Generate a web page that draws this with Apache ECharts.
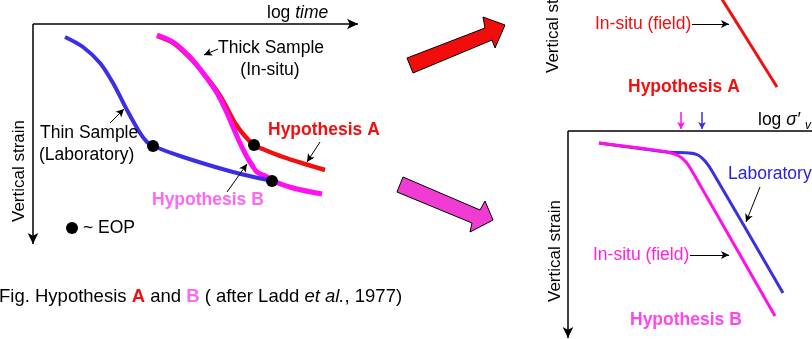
<!DOCTYPE html>
<html>
<head>
<meta charset="utf-8">
<script src="https://cdn.jsdelivr.net/npm/echarts@6/dist/echarts.min.js"></script>
<style>
  html, body { margin: 0; padding: 0; background: #fff; }
  #main { width: 812px; height: 339px; }
</style>
</head>
<body>
<div id="main"></div>
<script>
'use strict';

// schematic curves (x = log time / log stress, y = strain downward)
var thinSample = [[65,37],[83,47],[100,63],[113,83],[127,110],[140,133],[147,142],[153,146],[183,157],[233,172],[272,181]];
var hypothesisB = [[157,35],[173,42],[190,57],[203,73],[217,93],[227,113],[233,127],[240,143],[247,157],[252,165],[257,172],[267,177],[273,181],[293,188],[322,194]];
var hypothesisA = [[157,36],[173,43],[190,58],[204,74],[219,94],[228,110],[235,123],[244,135],[254,145],[265,150],[283,157],[305,164],[325,170]];
var eopPoints = [[153,146],[254,145],[272,181]];
var eopLegend = [[72,228]];

// compression curves, right hand panels
var fieldA = [[720,-4],[777,87]];
var labB = [[599,143],[667,152],[689,153],[698,155],[705,161],[712,171],[783,293]];
var fieldB = [[599,143],[640,148],[667,152],[679,156],[686,162],[692,171],[775,316]];

// big block arrows
var redArrow = [[407,58],[413,73],[492,40],[495,48],[505,25],[483,17],[485,28]];
var pinkArrow = [[403,177],[397,192],[472,223],[470,232],[493,220],[485,201],[480,210]];

// axes and pointer lines [from, to]
var axesArrows = [
  [[33,24],[33,244]], [[33,24],[358,24]],
  [[568,-5],[568,108]],
  [[568,131],[568,338]]
];
var axesPlain = [[[568,131],[812,131]]];
var pointers = [
  [[218,49],[204,55]], [[110,123],[124,109]], [[320,142],[307,162]],
  [[227,192],[247,164]], [[692,24],[729,24]], [[760,187],[746,222]], [[690,255],[729,255]]
];
var pcMarks = [[[681,112],[681,129]], [[702,112],[702,129]]];

var font = 'Liberation Sans, Arial, sans-serif';
var FS = 17.5;
var CAP = 18.5;

var myChart = echarts.init(document.getElementById('main'), null, { renderer: 'canvas' });

function pairs(list) {
  return list.map(function (p) { return [{ coord: p[0] }, { coord: p[1] }]; });
}

function blockArrow(pts, color) {
  return {
    type: 'custom',
    coordinateSystem: 'cartesian2d',
    clip: false,
    data: [[0, 0]],
    renderItem: function (params, api) {
      return {
        type: 'polygon',
        shape: { points: pts.map(function (p) { return api.coord(p); }) },
        style: { fill: color, stroke: '#000', lineWidth: 1 }
      };
    }
  };
}

function curve(data, color, width, smooth) {
  return {
    type: 'line', data: data, smooth: smooth, showSymbol: false, symbol: 'none',
    lineStyle: { color: color, width: width }, clip: false
  };
}

function text(x, y, str, extra) {
  var st = { text: str, x: x, y: y, font: FS + 'px ' + font, fill: '#000', textVerticalAlign: 'middle' };
  for (var k in extra) st[k] = extra[k];
  return { type: 'text', z: 100, style: st };
}

function vtext(x, y) {
  return {
    type: 'text', z: 100, x: x, y: y, rotation: Math.PI / 2,
    style: { text: 'Vertical strain', font: '17px ' + font, fill: '#000', textAlign: 'center', textVerticalAlign: 'middle' }
  };
}

var option = {
  animation: false,
  backgroundColor: '#fff',
  grid: { left: 0, right: 0, top: 0, bottom: 0 },
  xAxis: { type: 'value', min: 0, max: 812, show: false },
  yAxis: { type: 'value', min: 0, max: 339, inverse: true, show: false },
  series: [
    blockArrow(redArrow, '#F20D0D'),
    blockArrow(pinkArrow, '#F03CD2'),
    curve(hypothesisA, '#F01010', 4.5, 0.3),
    curve(hypothesisB, '#FF10F0', 5, 0.3),
    curve(thinSample, '#3C2EE6', 4, 0.3),
    curve(fieldA, '#F01010', 3, false),
    curve(labB, '#3A30E0', 3, 0.25),
    curve(fieldB, '#FF10E8', 3, 0.25),
    {
      type: 'scatter', data: eopPoints.concat(eopLegend), symbolSize: 12,
      itemStyle: { color: '#000', opacity: 1 }, z: 10
    },
    {
      type: 'line', data: [], markLine: {
        silent: true, symbol: ['none', 'arrow'], symbolSize: [8, 11],
        label: { show: false }, lineStyle: { color: '#000', width: 1.5, type: 'solid' },
        data: pairs(axesArrows)
      }
    },
    {
      type: 'line', data: [], markLine: {
        silent: true, symbol: ['none', 'none'],
        label: { show: false }, lineStyle: { color: '#000', width: 1.5, type: 'solid' },
        data: pairs(axesPlain)
      }
    },
    {
      type: 'line', data: [], markLine: {
        silent: true, symbol: ['none', 'arrow'], symbolSize: [6, 8],
        label: { show: false }, lineStyle: { color: '#000', width: 1, type: 'solid' },
        data: pairs(pointers)
      }
    },
    {
      type: 'line', data: [], markLine: {
        silent: true, symbol: ['none', 'arrow'], symbolSize: [6, 7],
        label: { show: false }, lineStyle: { width: 1.5, type: 'solid' },
        data: [
          [{ coord: pcMarks[0][0], lineStyle: { color: '#FF10E8' }, itemStyle: { color: '#FF10E8' } }, { coord: pcMarks[0][1] }],
          [{ coord: pcMarks[1][0], lineStyle: { color: '#3A30E0' }, itemStyle: { color: '#3A30E0' } }, { coord: pcMarks[1][1] }]
        ]
      }
    }
  ],
  graphic: [
    text(267, 13, '{n|log }{i|time}', { rich: { n: { font: FS + 'px ' + font }, i: { font: 'italic ' + FS + 'px ' + font } } }),
    text(218, 48, 'Thick Sample'),
    text(270, 70, '(In-situ)', { textAlign: 'center' }),
    text(40, 133, 'Thin Sample'),
    text(39, 155, '(Laboratory)'),
    text(268, 130, 'Hypothesis A', { font: 'bold ' + FS + 'px ' + font, fill: '#F01010' }),
    text(152, 200, 'Hypothesis B', { font: 'bold ' + FS + 'px ' + font, fill: '#FF66F5' }),
    text(83, 228, '~ EOP'),
    vtext(19, 171),
    text(-1, 297, '{n|Fig. Hypothesis }{a|A}{n| and }{b|B}{n| ( after Ladd }{i|et al.}{n|, 1977)}', {
      rich: {
        n: { font: CAP + 'px ' + font },
        a: { font: 'bold ' + CAP + 'px ' + font, fill: '#F01010' },
        b: { font: 'bold ' + CAP + 'px ' + font, fill: '#FF66F5' },
        i: { font: 'italic ' + CAP + 'px ' + font }
      }
    }),
    vtext(553, 22),
    text(595, 24, 'In-situ (field)', { fill: '#F01010' }),
    text(628, 87, 'Hypothesis A', { font: 'bold ' + FS + 'px ' + font, fill: '#F01010' }),
    text(758, 120, '{n|log }{s|σ′}', { rich: { n: { font: FS + 'px ' + font }, s: { font: 'italic ' + FS + 'px ' + font } } }),
    text(805, 126, 'v', { font: 'italic 12px ' + font }),
    text(728, 174, 'Laboratory', { fill: '#2A22DD' }),
    vtext(555, 251),
    text(593, 255, 'In-situ (field)', { fill: '#FF22DD' }),
    text(630, 320, 'Hypothesis B', { font: 'bold ' + FS + 'px ' + font, fill: '#FF44F0' })
  ]
};

myChart.setOption(option);
</script>
</body>
</html>
